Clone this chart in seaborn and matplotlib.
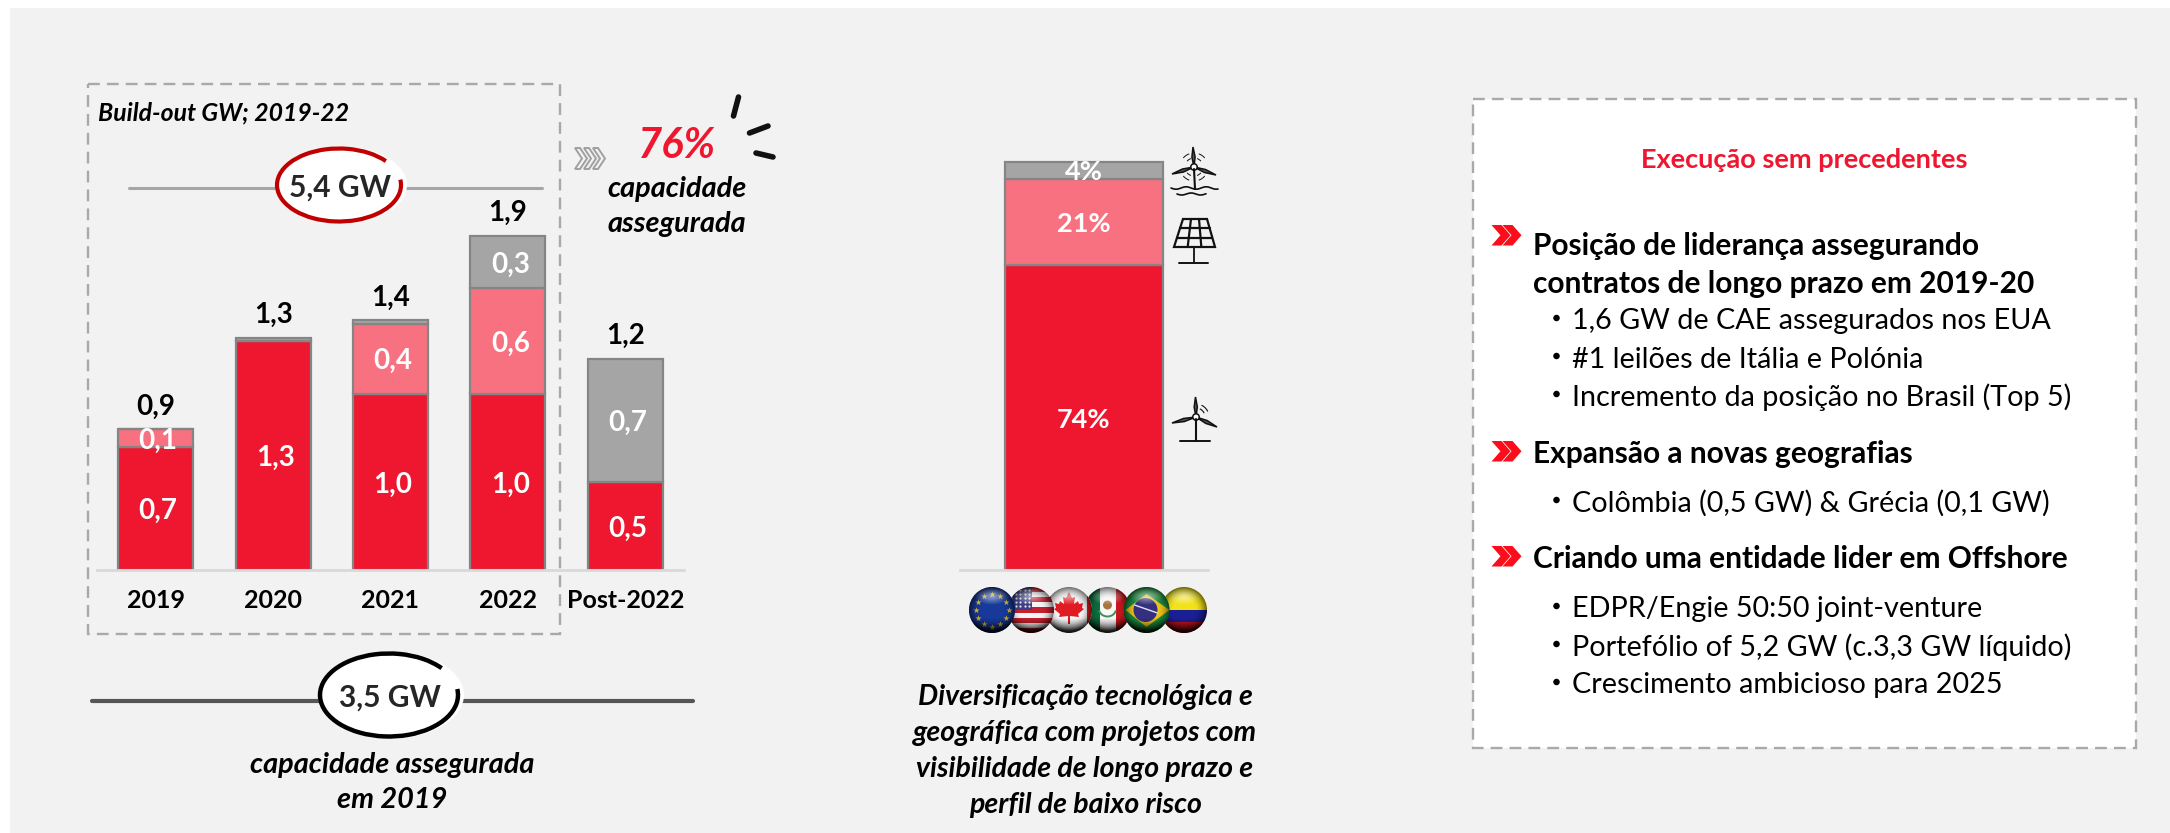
import numpy as np
import pandas as pd
import seaborn as sns
import matplotlib
matplotlib.use("Agg")
import matplotlib.pyplot as plt
from matplotlib.patches import Rectangle, Ellipse, Arc, Circle, Polygon

W, H = 2170, 833
PANEL = "#f2f2f2"
RED = "#ee172f"
PINK = "#f77180"
GREY = "#a5a5a5"
EDGE = "#858585"
DASH = "#a9a9a9"

# Build-out per year (GW)
years = ["2019", "2020", "2021", "2022", "Post-2022"]
onshore = [0.7, 1.3, 1.0, 1.0, 0.5]
solar = [0.1, 0.0, 0.4, 0.6, 0.0]
offshore = [0.0, 0.02, 0.02, 0.3, 0.7]
totals = [0.9, 1.3, 1.4, 1.9, 1.2]

# Technology mix (%)
mix_names = ["Mix"]
mix_onshore = [74]
mix_solar = [21]
mix_offshore = [4]

bullets_1 = ["1,6 GW de CAE assegurados nos EUA", "#1 leilões de Itália e Polónia",
             "Incremento da posição no Brasil (Top 5)"]
bullets_2 = ["Colômbia (0,5 GW) & Grécia (0,1 GW)"]
bullets_3 = ["EDPR/Engie 50:50 joint-venture", "Portefólio of 5,2 GW (c.3,3 GW líquido)",
             "Crescimento ambicioso para 2025"]

sns.set_theme(style="white")
plt.rcParams["font.family"] = ["Lato", "DejaVu Sans"]

fig = plt.figure(figsize=(W / 100, H / 100), dpi=100, facecolor="white")


def px_axes(x0, y0, x1, y1, **kw):
    """Axes placed by pixel box (top-left origin)."""
    return fig.add_axes([x0 / W, 1 - y1 / H, (x1 - x0) / W, (y1 - y0) / H], **kw)


page = px_axes(0, 0, W, H, zorder=0)
page.set_xlim(0, W)
page.set_ylim(H, 0)
page.axis("off")
page.add_patch(Rectangle((10, 8), W - 10, H - 8, fc=PANEL, ec="none"))


def label(x, y, s, size, color="black", weight="normal", style="normal", ha="center", ax=page):
    ax.text(x, y, s, fontsize=size, color=color, fontweight=weight, fontstyle=style,
            ha=ha, va="center_baseline")


def fmt(v):
    return f"{v:.1f}".replace(".", ",")


def stacked(ax, names, layers):
    """Stack the layers with seaborn, each starting on top of the previous one."""
    base = np.zeros(len(names))
    for values, colour in layers:
        sns.barplot(x=names, y=values, order=names, color=colour, saturation=1, width=0.64,
                    bottom=base, edgecolor=EDGE, linewidth=1.6, ax=ax, zorder=2)
        base = base + np.array(values)
    return base


def baseline(ax):
    sns.despine(ax=ax, left=True)
    ax.spines["bottom"].set_color("#d9d9d9")
    ax.spines["bottom"].set_linewidth(2)
    ax.patch.set_alpha(0)
    ax.set_yticks([])
    ax.set_xlabel("")
    ax.set_ylabel("")
    ax.grid(False)


# Yearly build-out stack
ax1 = px_axes(97, 218, 684, 570, zorder=2)
tops = stacked(ax1, years, [(onshore, RED), (solar, PINK), (offshore, GREY)])
ax1.set_xlim(-0.5, 4.5)
ax1.set_ylim(0, 2)
baseline(ax1)
ax1.tick_params(axis="x", length=0, pad=14)
for t in ax1.get_xticklabels():
    t.set_fontsize(18)
    t.set_fontweight("bold")
    t.set_color("black")

for i, (a, b, c) in enumerate(zip(onshore, solar, offshore)):
    bottom = 0
    for v in (a, b, c):
        if v >= 0.1:
            ax1.text(i + 0.02, bottom + v / 2, fmt(v), color="white", fontsize=20, fontweight="bold",
                     ha="center", va="center_baseline", zorder=3)
        bottom += v
    ax1.annotate(fmt(totals[i]), (i, tops[i]), xytext=(0, 18), textcoords="offset points",
                 fontsize=20, fontweight="bold", ha="center", va="center_baseline", color="black")

# Technology mix stack
ax2 = px_axes(960, 158, 1208, 570, zorder=2)
stacked(ax2, mix_names, [(mix_onshore, RED), (mix_solar, PINK), (mix_offshore, GREY)])
ax2.set_xlim(-0.5, 0.5)
ax2.set_ylim(0, 100)
baseline(ax2)
ax2.set_xticks([])
bottom = 0
for v in (mix_onshore[0], mix_solar[0], mix_offshore[0]):
    ax2.text(0, bottom + v / 2, f"{v}%", color="white", fontsize=19.5, fontweight="bold",
             ha="center", va="center_baseline", zorder=3)
    bottom += v

# Dashed frames
page.add_patch(Rectangle((88, 84), 471.5, 550, fc="none", ec=DASH, lw=1.7, ls=(0, (5, 3))))
page.add_patch(Rectangle((1473, 99), 663, 649, fc="white", ec=DASH, lw=1.7, ls=(0, (5, 3))))

label(98, 111, "Build-out GW; 2019-22", 17.8, weight="bold", style="italic", ha="left")


def badge(cx, cy, w, h, colour, line_y, x0, x1, line_col, line_w, text, ring_w):
    page.plot([x0, x1], [line_y, line_y], color=line_col, lw=line_w, solid_capstyle="round", zorder=1)
    page.add_patch(Ellipse((cx + 2, cy), w + 8, h + 4, fc="white", ec="none", zorder=2))
    page.add_patch(Arc((cx, cy), w, h, theta1=-5, theta2=333, ec=colour, lw=ring_w, zorder=3))
    page.text(cx + 1, cy, text, fontsize=21.5, fontweight="bold", ha="center", va="center_baseline", zorder=4)


badge(339, 185, 124, 73, "#c00000", 188, 129, 542, "#a6a6a6", 2.2, "5,4 GW", 3)
badge(389, 695, 138, 83, "black", 701, 92, 693, "#565656", 3, "3,5 GW", 3.2)

# 76% callout with its accent strokes
label(677, 142, "76%", 30, color=RED, weight="bold", style="italic")
label(677, 186, "capacidade", 20.8, weight="bold", style="italic")
label(677, 221, "assegurada", 20.8, weight="bold", style="italic")
for (xa, ya), (xb, yb) in [((738.5, 97), (733.5, 116)), ((749.5, 133), (768, 126)), ((756, 153), (773, 157))]:
    page.plot([xa, xb], [ya, yb], color="#111111", lw=4, solid_capstyle="round")


def chevron(x, y, w, h, tip):
    return [(x, y), (x + w - tip, y), (x + w, y + h / 2), (x + w - tip, y + h), (x, y + h), (x + tip, y + h / 2)]


for dx in (0, 9, 18):
    page.add_patch(Polygon(chevron(575 + dx, 148, 12, 21, 7), closed=True, fc=PANEL, ec="#a0a0a0", lw=1.4))

label(392, 763, "capacidade assegurada", 20.8, weight="bold", style="italic")
label(392, 798, "em 2019", 20.8, weight="bold", style="italic")

for y, s in zip((695, 731, 767, 802), ("Diversificação tecnológica e", "geográfica com projetos com",
                                       "visibilidade de longo prazo e", "perfil de baixo risco")):
    label(1085, y, s, 20.5, weight="bold", style="italic")

# Right-hand panel
label(1804, 158, "Execução sem precedentes", 19.5, color=RED, weight="bold")


def red_marker(y):
    for dx in (0, 11):
        page.add_patch(Polygon(chevron(1491.5 + dx, y, 19, 20.5, 9), closed=True, fc="#fb0d1b", ec="none"))


def bullet_rows(rows):
    for y, s in rows:
        page.add_patch(Ellipse((1556.5, y - 1), 6.5, 6.5, fc="black", ec="none"))
        label(1572, y, s, 20.7, ha="left")


HEAD = 21.5
red_marker(225)
label(1533, 243, "Posição de liderança assegurando", HEAD, weight="bold", ha="left")
label(1533, 281, "contratos de longo prazo em 2019-20", HEAD, weight="bold", ha="left")
bullet_rows(zip((319, 357, 395), bullets_1))
red_marker(441)
label(1533, 451, "Expansão a novas geografias", HEAD, weight="bold", ha="left")
bullet_rows(zip((501,), bullets_2))
red_marker(546)
label(1533, 556, "Criando uma entidade lider em Offshore", HEAD, weight="bold", ha="left")
bullet_rows(zip((607, 645, 683), bullets_3))

# Line icons beside the mix stack
ICON = "#111111"


def turbine(hx, hy, top, left, right, foot):
    page.plot([hx, foot[0]], [hy + 2, foot[1]], color=ICON, lw=1.5)
    for tip in (top, left, right):
        mid = ((hx + tip[0]) / 2, (hy + tip[1]) / 2)
        nx, ny = -(tip[1] - hy), tip[0] - hx
        n = np.hypot(nx, ny)
        nx, ny = nx / n * 1.6, ny / n * 1.6
        page.add_patch(Polygon([(hx, hy), (mid[0] + nx, mid[1] + ny), tip, (mid[0] - nx, mid[1] - ny)],
                               closed=True, fc="#555555", ec=ICON, lw=1.1))
    page.add_patch(Circle((hx, hy), 3.2, fc="white", ec=ICON, lw=1.1))


turbine(1194, 167, (1193, 147), (1172, 174), (1216, 175), (1195, 189))
for r in (9, 14):
    page.add_patch(Arc((1194, 167), 2 * r, 2 * r, theta1=-70, theta2=-40, ec=ICON, lw=0.7))
    page.add_patch(Arc((1194, 167), 2 * r, 2 * r, theta1=40, theta2=70, ec=ICON, lw=0.7))
    page.add_patch(Arc((1194, 167), 2 * r, 2 * r, theta1=110, theta2=140, ec=ICON, lw=0.7))
    page.add_patch(Arc((1194, 167), 2 * r, 2 * r, theta1=-140, theta2=-110, ec=ICON, lw=0.7))
wave_x = np.linspace(1171, 1218, 60)
page.plot(wave_x, 188 + 1.2 * np.sin((wave_x - 1171) / 3.2), color=ICON, lw=1.2)
wave_x2 = np.linspace(1177, 1206, 40)
page.plot(wave_x2, 194 + 1.0 * np.sin((wave_x2 - 1177) / 3.0), color=ICON, lw=1.2)

turbine(1196, 417, (1195.5, 397), (1172, 423), (1217, 427), (1196, 441))
page.plot([1180, 1210], [441, 441], color=ICON, lw=1.4)
for r in (9, 13):
    page.add_patch(Arc((1196, 417), 2 * r, 2 * r, theta1=-65, theta2=-25, ec=ICON, lw=0.8))

# Solar panel
tl, tr, bl, br = (1183, 219), (1207, 219), (1174, 247), (1215, 247)
page.add_patch(Polygon([tl, tr, br, bl], closed=True, fc="none", ec=ICON, lw=1.6))
for f in (1 / 3, 2 / 3):
    page.plot([tl[0] + f * 24, bl[0] + f * 41], [219, 247], color=ICON, lw=1.6)
for f in (1 / 3, 2 / 3):
    page.plot([tl[0] - f * 9, tr[0] + f * 8], [219 + f * 28, 219 + f * 28], color=ICON, lw=1.6)
page.plot([1194, 1194], [247, 262], color=ICON, lw=1.3)
page.plot([1179, 1208], [262.5, 262.5], color=ICON, lw=1.4)


# Flag spheres
def sphere(cx, cy=610, r=23):
    clip = Circle((cx, cy), r, transform=page.transData, fc="none", ec="none")
    page.add_patch(clip)
    return clip


def rect(clip, x, y, w, h, c, z):
    p = Rectangle((x, y), w, h, fc=c, ec="none", zorder=z)
    page.add_patch(p)
    p.set_clip_path(clip)


def shade(clip, cx, cy, r, z):
    n = 80
    yy, xx = np.mgrid[-1:1:n * 1j, -1:1:n * 1j]
    rad = np.hypot(xx, yy)
    rgba = np.zeros((n, n, 4))
    dark = np.clip((rad - 0.45) / 0.55, 0, 1) ** 2 * 0.55 + np.clip(yy - 0.35, 0, 1) * 0.9
    gloss = np.clip(1 - np.hypot(xx / 0.75, (yy + 0.6) / 0.38), 0, 1) * 0.55
    alpha = np.clip(dark + gloss, 0, 0.92)
    white = gloss / np.maximum(dark + gloss, 1e-3)
    for k in range(3):
        rgba[..., k] = white
    rgba[..., 3] = alpha
    im = page.imshow(rgba, extent=(cx - r, cx + r, cy + r, cy - r), aspect="auto", zorder=z + 0.5,
                     interpolation="bilinear")
    im.set_clip_path(clip)


def flag_co(cx, z):
    clip = sphere(cx)
    rect(clip, cx - 23, 587, 46, 23, "#f2e21c", z)
    rect(clip, cx - 23, 610, 46, 12, "#1a1f96", z)
    rect(clip, cx - 23, 622, 46, 11, "#c4121c", z)
    shade(clip, cx, 610, 23, z)


def flag_br(cx, z):
    clip = sphere(cx)
    rect(clip, cx - 23, 587, 46, 46, "#1d8f3f", z)
    p = Polygon([(cx - 21, 610), (cx, 594), (cx + 23, 610), (cx, 627)], fc="#f0c419", ec="none", zorder=z)
    page.add_patch(p)
    p.set_clip_path(clip)
    page.add_patch(Circle((cx - 1, 610), 12, fc="#34307f", ec="none", zorder=z))
    page.plot([cx - 12, cx + 11], [605, 613], color="#dfe3ee", lw=1, zorder=z)
    shade(clip, cx, 610, 23, z)


def flag_mx(cx, z):
    clip = sphere(cx)
    rect(clip, cx - 23, 587, 15, 46, "#0b6b3a", z)
    rect(clip, cx - 8, 587, 16, 46, "#f7f7f7", z)
    rect(clip, cx + 8, 587, 15, 46, "#c8151f", z)
    page.add_patch(Arc((cx, 609), 17, 15, theta1=10, theta2=170, ec="#3f8f5a", lw=1.4, zorder=z))
    page.add_patch(Ellipse((cx, 605), 9, 9, fc="#a9753f", ec="none", zorder=z))
    shade(clip, cx, 610, 23, z)


MAPLE = [(0, -16), (3, -10), (6, -11), (5, -4), (9, -7), (10, -4), (14, -5), (13, 0), (15, 1), (9, 6),
         (10, 9), (1, 8), (1, 16), (-1, 16), (-1, 8), (-10, 9), (-9, 6), (-15, 1), (-13, 0), (-14, -5),
         (-10, -4), (-9, -7), (-5, -4), (-6, -11), (-3, -10)]


def flag_ca(cx, z):
    clip = sphere(cx)
    rect(clip, cx - 23, 587, 46, 46, "#f7f7f7", z)
    rect(clip, cx + 18, 587, 6, 46, "#e01b22", z)
    rect(clip, cx - 24, 587, 6, 46, "#e01b22", z)
    page.add_patch(Polygon([(cx + a, 608 + b) for a, b in MAPLE], fc="#e01b22", ec="none", zorder=z))
    shade(clip, cx, 610, 23, z)


def flag_us(cx, z):
    clip = sphere(cx)
    for k in range(9):
        rect(clip, cx - 23, 587 + k * 46 / 9, 46, 46 / 9, "#c4202e" if k % 2 == 0 else "#f5f5f5", z)
    rect(clip, cx - 23, 587, 24, 23, "#3d3f86", z)
    xs, ys = np.meshgrid(np.arange(cx - 20, cx + 1, 4.5), np.arange(590, 609, 4))
    dots = page.scatter(xs.ravel(), ys.ravel(), s=2.5, c="#e6e6ee", linewidths=0, zorder=z)
    dots.set_clip_path(clip)
    shade(clip, cx, 610, 23, z)


def flag_eu(cx, z):
    clip = sphere(cx)
    rect(clip, cx - 23, 587, 46, 46, "#17399a", z)
    ang = np.arange(12) * np.pi / 6
    page.scatter(cx + 16.5 * np.cos(ang), 610 + 16.5 * np.sin(ang), s=22, marker="*", c="#e0c22e",
                 linewidths=0, zorder=z)
    shade(clip, cx, 610, 23, z)


flag_co(1184, 6)
flag_br(1146.5, 7)
flag_mx(1107.5, 5)
flag_ca(1069, 6)
flag_us(1031, 7)
flag_eu(992, 8)

# imshow resets the view, so pin the page limits again
page.set_xlim(0, W)
page.set_ylim(H, 0)
page.set_aspect("auto")

fig.savefig("out.png", dpi=100, facecolor="white")
